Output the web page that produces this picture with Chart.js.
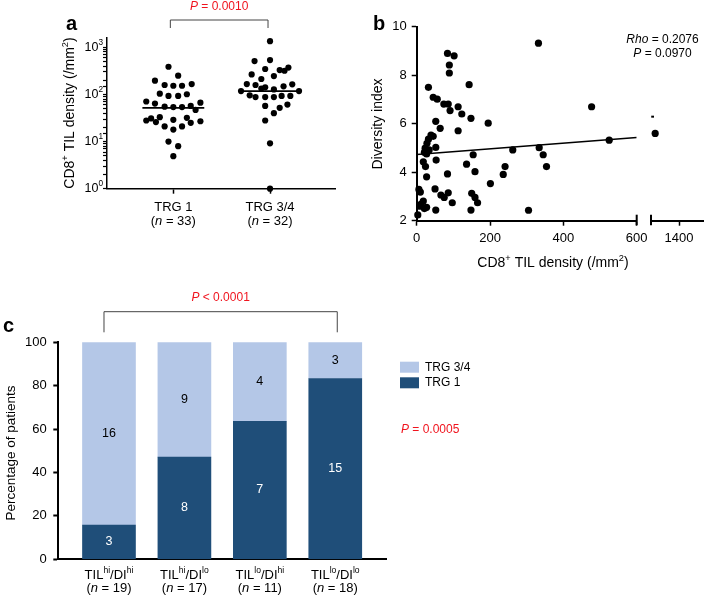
<!DOCTYPE html>
<html>
<head>
<meta charset="utf-8">
<script src="https://cdn.jsdelivr.net/npm/chart.js@4.4.1/dist/chart.umd.min.js"></script>
<style>
  html, body { margin: 0; padding: 0; background: #fff; }
  #wrap { position: relative; width: 709px; height: 598px; overflow: hidden; }
  canvas { position: absolute; }
</style>
</head>
<body>
<div id="wrap">
  <canvas id="chartA" width="360" height="290" style="left:0;top:0"></canvas>
  <canvas id="chartB" width="349" height="290" style="left:360px;top:0"></canvas>
  <canvas id="chartB2" width="69" height="290" style="left:640px;top:0"></canvas>
  <canvas id="chartC" width="709" height="308" style="left:0;top:290px"></canvas>
</div>
<script>
const FONT = '"Liberation Sans", Arial, Helvetica, sans-serif';
const RED = "#f0141e";
const DARK = "#1f4e79";
const LIGHT = "#b4c7e7";

// panel a - CD8+ TIL density by TRG group
const trgCategories = ["TRG 1", "TRG 3/4"];
const trgN = [33, 32];
const trg1Density = [388, 250, 196, 159, 153, 153, 166, 104, 93, 93, 101, 71, 64, 55, 54, 54, 57, 67, 47,
  28, 31, 33, 26, 21, 29, 18, 21, 32, 25, 27, 10, 8, 4.9];
const trg1Jitter = [-0.05, 0.05, -0.19, -0.09, 0, 0.09, 0.19, -0.14, -0.05, 0.05, 0.14, -0.28, -0.19, -0.09, 0, 0.09, 0.18, 0.28, 0.23,
  -0.28, -0.23, -0.14, -0.18, -0.09, 0, 0, 0.09, 0.14, 0.18, 0.28, -0.05, 0.05, 0];
const trg34Density = [1350, 512, 538, 347, 330, 319, 373, 267, 246, 213, 166, 159, 142, 149, 164, 118, 118, 96, 88, 88,
  88, 93, 93, 57, 52, 61, 40, 28, 9.2, 1, 128, 134];
const trg34Jitter = [0, -0.16, 0, -0.05, 0.1, 0.15, 0.19, -0.19, 0.04, -0.09, -0.24, -0.15, -0.05, 0.14, 0.23, -0.3, 0.3, -0.21, -0.15, -0.05,
  0.04, 0.12, 0.21, -0.05, 0.1, 0.18, 0.04, -0.05, 0, 0, 0.04, -0.09];
const trgMedians = [52, 118];
const logTickLabels = [0, 1, 2, 3]; // exponents of 10

// panel b - diversity index vs density
const tilDensity = [84, 102, 89, 89, 32, 143, 45, 56, 74, 86, 113, 91, 123, 148, 52, 195, 64, 113, 39, 32,
  28, 23, 52, 21, 154, 53, 18, 24, 136, 159, 27, 84, 6, 50, 66, 75, 86, 97, 150, 159,
  166, 18, 9, 27, 3, 52, 148, 332, 262, 334, 345, 354, 241, 236, 201, 305, 477, 525, 1335, 10,
  12, 21, 34, 27, 45];
const diversityIndex = [8.90, 8.80, 8.42, 8.09, 7.50, 7.61, 7.09, 7.01, 6.81, 6.81, 6.70, 6.54, 6.40, 6.22, 6.10, 6.02, 5.81, 5.71, 5.53, 5.36,
  5.19, 4.99, 5.02, 4.82, 4.72, 4.50, 4.43, 4.23, 4.33, 4.02, 3.81, 3.93, 3.29, 3.31, 3.06, 2.96, 3.15, 2.74, 3.13, 2.96,
  2.74, 2.81, 2.60, 2.55, 2.24, 2.44, 2.44, 9.32, 4.92, 5.01, 4.72, 4.23, 4.23, 3.91, 3.53, 2.43, 6.70, 5.32, 5.60, 3.18,
  2.68, 2.50, 4.92, 4.75, 5.48];
const fitDensity = [0, 600];
const fitDiversity = [4.73, 5.43];
const strayDensity = [1328];
const strayDiversity = [6.29];
const densityTicks = [0, 200, 400, 600];
const brokenTicks = [1400];
const diversityTicks = [2, 4, 6, 8, 10];

// panel c - TIL/DI groups
const groupTil = ["hi", "hi", "lo", "lo"];
const groupDi = ["hi", "lo", "hi", "lo"];
const groupN = [19, 17, 11, 18];
const trg1Counts = [3, 8, 7, 15];
const trg34Counts = [16, 9, 4, 3];
const percentTicks = [0, 20, 40, 60, 80, 100];

Chart.defaults.font.family = FONT;
Chart.defaults.color = "#000";
Chart.defaults.animation = false;

// draws text made of segments: [text, kind] kind "" normal, "i" italic, "s" superscript
function drawRich(ctx, segs, x, y, size, align, color) {
  const fontFor = (k) => (k === "i" ? "italic " : "") + (k === "s" ? size * 0.66 : size) + "px " + FONT;
  let w = 0;
  segs.forEach(([t, k]) => { ctx.font = fontFor(k); w += ctx.measureText(t).width; });
  let cx = align === "center" ? x - w / 2 : align === "right" ? x - w : x;
  ctx.save();
  ctx.fillStyle = color || "#000";
  ctx.textBaseline = "middle";
  ctx.textAlign = "left";
  segs.forEach(([t, k]) => {
    ctx.font = fontFor(k);
    ctx.fillText(t, cx, k === "s" ? y - size * 0.36 : y);
    cx += ctx.measureText(t).width;
  });
  ctx.restore();
}

function drawRotated(ctx, segs, x, y, size) {
  ctx.save();
  ctx.translate(x, y);
  ctx.rotate(-Math.PI / 2);
  drawRich(ctx, segs, 0, 0, size, "center");
  ctx.restore();
}

function panelLetter(ctx, letter, x, y) {
  ctx.save();
  ctx.font = "bold 20px " + FONT;
  ctx.fillStyle = "#000";
  ctx.textBaseline = "alphabetic";
  ctx.fillText(letter, x, y);
  ctx.restore();
}

function line(ctx, pts, color, width) {
  ctx.save();
  ctx.strokeStyle = color;
  ctx.lineWidth = width;
  ctx.beginPath();
  pts.forEach(([x, y], i) => (i ? ctx.lineTo(x, y) : ctx.moveTo(x, y)));
  ctx.stroke();
  ctx.restore();
}

const densityTitle = [["CD8", ""], ["+", "s"], [" TIL density (/mm", ""], ["2", "s"], [")", ""]];

const axisGrid = (w) => ({ drawOnChartArea: false, tickLength: 5, tickColor: "#000", tickWidth: w });

// ---------- panel a ----------
new Chart(document.getElementById("chartA"), {
  type: "scatter",
  data: {
    datasets: [
      { data: trg1Density.map((v, i) => ({ x: 0 + trg1Jitter[i], y: v })), backgroundColor: "#000", borderWidth: 0, pointRadius: 3.1, clip: false },
      { data: trg34Density.map((v, i) => ({ x: 1 + trg34Jitter[i], y: v })), backgroundColor: "#000", borderWidth: 0, pointRadius: 3.1, clip: false },
      ...trgMedians.map((m, i) => ({
        type: "line",
        data: [{ x: i - 0.32, y: m }, { x: i + 0.32, y: m }],
        borderColor: "#000", borderWidth: 1.6, pointRadius: 0,
      })),
    ],
  },
  options: {
    responsive: false,
    layout: { padding: { left: 87, right: 25, top: 38, bottom: 91.3 }, autoPadding: false },
    plugins: { legend: { display: false }, tooltip: { enabled: false } },
    scales: {
      x: {
        type: "linear", min: -0.686, max: 1.672,
        afterBuildTicks: (s) => { s.ticks = trgCategories.map((c, i) => ({ value: i })); },
        afterFit: (s) => { s.height = 10; },
        ticks: { display: false },
        grid: axisGrid(1.5),
        border: { color: "#000", width: 1.5 },
      },
      y: {
        type: "logarithmic", min: 1, max: 1580,
        afterBuildTicks: (s) => { s.ticks = s.ticks.filter((t) => t.value <= 1000); },
        afterFit: (s) => { s.width = 20; },
        ticks: { display: false },
        grid: { drawOnChartArea: false, tickLength: 4, tickColor: "#000", tickWidth: 1.2 },
        border: { color: "#000", width: 1.5 },
      },
    },
  },
  plugins: [{
    id: "decorA",
    afterDraw(chart) {
      const { ctx, scales: { x, y } } = chart;
      panelLetter(ctx, "a", 66, 30);
      logTickLabels.forEach((e) => {
        drawRich(ctx, [["10", ""], [String(e), "s"]], 103, y.getPixelForValue(Math.pow(10, e)), 12.5, "right");
      });
      drawRotated(ctx, densityTitle, 70, 113, 14);
      trgCategories.forEach((c, i) => {
        const px = x.getPixelForValue(i);
        drawRich(ctx, [[c, ""]], px, 207, 13, "center");
        drawRich(ctx, [["(", ""], ["n", "i"], [" = " + trgN[i] + ")", ""]], px, 221, 13, "center");
      });
      const x0 = x.getPixelForValue(0) - 3, x1 = x.getPixelForValue(1) - 2;
      line(ctx, [[x0, 28], [x0, 20], [x1, 20], [x1, 28]], "#444", 1);
      drawRich(ctx, [["P", "i"], [" = 0.0010", ""]], (x0 + x1) / 2, 7, 12, "center", RED);
    },
  }],
});

// ---------- panel b ----------
const mainPts = tilDensity.map((v, i) => ({ x: v, y: diversityIndex[i] })).filter((p) => p.x <= 600);
const farPts = tilDensity.map((v, i) => ({ x: v, y: diversityIndex[i] })).filter((p) => p.x > 600);
const tickFont = { size: 13, family: FONT };

new Chart(document.getElementById("chartB"), {
  type: "scatter",
  data: {
    datasets: [
      { data: mainPts, backgroundColor: "#000", borderWidth: 0, pointRadius: 3.6, clip: false },
      {
        type: "line",
        data: fitDensity.map((v, i) => ({ x: v, y: fitDiversity[i] })),
        borderColor: "#000", borderWidth: 1.6, pointRadius: 0,
      },
    ],
  },
  options: {
    responsive: false,
    layout: { padding: { left: 16.7, right: 72.3, top: 26.7, bottom: 39.3 }, autoPadding: false },
    plugins: { legend: { display: false }, tooltip: { enabled: false } },
    scales: {
      x: {
        type: "linear", min: 0, max: 600,
        afterBuildTicks: (s) => { s.ticks = densityTicks.map((v) => ({ value: v })); },
        afterFit: (s) => { s.height = 30; },
        ticks: { font: tickFont, color: "#000", padding: 4.5, maxRotation: 0, autoSkip: false, callback: (v) => String(v) },
        grid: axisGrid(1.5),
        border: { color: "#000", width: 2 },
      },
      y: {
        type: "linear", min: 2, max: 10,
        afterBuildTicks: (s) => { s.ticks = diversityTicks.map((v) => ({ value: v })); },
        afterFit: (s) => { s.width = 40; },
        ticks: { font: tickFont, color: "#000", padding: 5 },
        grid: axisGrid(1.5),
        border: { color: "#000", width: 2 },
      },
    },
  },
  plugins: [{
    id: "decorB",
    afterDraw(chart) {
      const { ctx, chartArea, scales: { x } } = chart;
      const px = x.getPixelForValue(600);
      line(ctx, [[px, chartArea.bottom - 6], [px, chartArea.bottom + 4.5]], "#000", 2);
      panelLetter(ctx, "b", 13, 30);
      drawRotated(ctx, [["Diversity index", ""]], 18, 124, 14);
      drawRich(ctx, densityTitle, 193, 263, 14, "center");
      drawRich(ctx, [["Rho", "i"], [" = 0.2076", ""]], 302.5, 39.5, 12, "center");
      drawRich(ctx, [["P", "i"], [" = 0.0970", ""]], 302.5, 53.5, 12, "center");
    },
  }],
});

new Chart(document.getElementById("chartB2"), {
  type: "scatter",
  data: {
    datasets: [
      { data: farPts, backgroundColor: "#000", borderWidth: 0, pointRadius: 3.6, clip: false },
      {
        data: strayDensity.map((v, i) => ({ x: v, y: strayDiversity[i] })),
        pointStyle: "line", pointRadius: 1.4, borderColor: "#000", borderWidth: 2, clip: false,
      },
    ],
  },
  options: {
    responsive: false,
    layout: { padding: { left: 11, right: 5.7, top: 26.7, bottom: 39.3 }, autoPadding: false },
    plugins: { legend: { display: false }, tooltip: { enabled: false } },
    scales: {
      x: {
        type: "linear", min: 1323.6, max: 1466,
        afterBuildTicks: (s) => { s.ticks = brokenTicks.map((v) => ({ value: v })); },
        afterFit: (s) => { s.height = 30; },
        ticks: { font: tickFont, color: "#000", padding: 4.5, maxRotation: 0, autoSkip: false, callback: (v) => String(v) },
        grid: axisGrid(1.5),
        border: { color: "#000", width: 2 },
      },
      y: { type: "linear", min: 2, max: 10, display: false },
    },
  },
  plugins: [{
    id: "breakB2",
    afterDraw(chart) {
      const { ctx, chartArea } = chart;
      line(ctx, [[chartArea.left, chartArea.bottom - 6], [chartArea.left, chartArea.bottom + 4.5]], "#000", 2);
    },
  }],
});

// ---------- panel c ----------
const totals = trg1Counts.map((c, i) => c + trg34Counts[i]);

new Chart(document.getElementById("chartC"), {
  type: "bar",
  data: {
    datasets: [
      {
        label: "TRG 1", counts: trg1Counts,
        data: trg1Counts.map((c, i) => ({ x: i, y: (100 * c) / totals[i] })),
        backgroundColor: DARK, barThickness: 53, textColor: "#fff",
      },
      {
        label: "TRG 3/4", counts: trg34Counts,
        data: trg34Counts.map((c, i) => ({ x: i, y: (100 * c) / totals[i] })),
        backgroundColor: LIGHT, barThickness: 53, textColor: "#000",
      },
    ],
  },
  options: {
    responsive: false,
    layout: { padding: { left: 18.3, right: 322.3, top: 52.3, bottom: 8.7 }, autoPadding: false },
    plugins: { legend: { display: false }, tooltip: { enabled: false } },
    scales: {
      x: {
        type: "linear", min: -0.672, max: 3.682, stacked: true, offset: false,
        afterFit: (s) => { s.height = 30; },
        ticks: { display: false },
        grid: { drawOnChartArea: false, drawTicks: false, offset: false },
        border: { color: "#000", width: 2 },
      },
      y: {
        type: "linear", min: 0, max: 100, stacked: true,
        afterBuildTicks: (s) => { s.ticks = percentTicks.map((v) => ({ value: v })); },
        afterFit: (s) => { s.width = 40; },
        ticks: { font: tickFont, color: "#000", padding: 6.5 },
        grid: axisGrid(2),
        border: { color: "#000", width: 2 },
      },
    },
  },
  plugins: [{
    id: "decorC",
    afterDraw(chart) {
      const { ctx, scales: { x } } = chart;
      chart.data.datasets.forEach((ds, di) => {
        chart.getDatasetMeta(di).data.forEach((bar, i) => {
          drawRich(ctx, [[String(ds.counts[i]), ""]], bar.x, (bar.y + bar.base) / 2, 12.5, "center", ds.textColor);
        });
      });
      groupTil.forEach((t, i) => {
        const px = x.getPixelForValue(i);
        drawRich(ctx, [["TIL", ""], [t, "s"], ["/DI", ""], [groupDi[i], "s"]], px, 285, 13, "center");
        drawRich(ctx, [["(", ""], ["n", "i"], [" = " + groupN[i] + ")", ""]], px, 298.5, 13, "center");
      });
      panelLetter(ctx, "c", 3, 41.5);
      drawRotated(ctx, [["Percentage of patients", ""]], 11, 163, 13.5);
      const x0 = x.getPixelForValue(0) - 5, x1 = x.getPixelForValue(3) + 2;
      line(ctx, [[x0, 42.3], [x0, 21.7], [x1, 21.7], [x1, 42.3]], "#444", 1);
      drawRich(ctx, [["P", "i"], [" < 0.0001", ""]], (x0 + x1) / 2, 7.5, 12, "center", RED);
      // legend
      const legend = [chart.data.datasets[1], chart.data.datasets[0]];
      legend.forEach((ds, k) => {
        const top = 71.7 + k * 15.6;
        ctx.fillStyle = ds.backgroundColor;
        ctx.fillRect(400, top, 19, 11);
        drawRich(ctx, [[ds.label, ""]], 425, top + 5.5, 12, "left");
      });
      drawRich(ctx, [["P", "i"], [" = 0.0005", ""]], 401, 140, 12, "left", RED);
    },
  }],
});
</script>
</body>
</html>
